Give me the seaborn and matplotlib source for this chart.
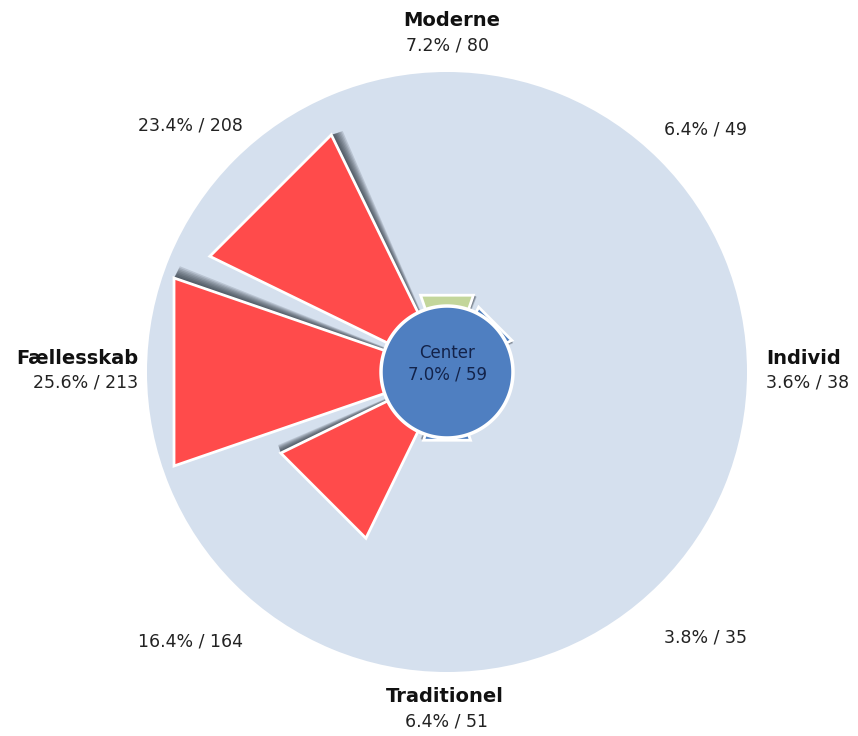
import numpy as np
import matplotlib
matplotlib.use("Agg")
import matplotlib.pyplot as plt
import seaborn as sns

sns.set_theme(style="white")
plt.rcParams["font.family"] = ["DejaVu Sans"]

# segments counter-clockwise from the right (degrees)
directions = [0, 45, 90, 135, 180, 225, 270, 315]
segment_names = ["Individ", "", "Moderne", "", "Fællesskab", "", "Traditionel", ""]
shares = [3.6, 6.4, 7.2, 23.4, 25.6, 16.4, 6.4, 3.8]
counts = [38, 49, 80, 208, 213, 164, 51, 35]
levels = ["under", "under", "middel", "over", "over", "over", "under", "under"]
center_share = 7.0
center_count = 59

level_colors = {"over": "#ff4b4b", "middel": "#c3d69b", "under": "#4f7fc1"}

W, H = 858, 736
RMAX = 26.6          # share at the rim of the background disc
CENTER_R = 5.85      # radius of the center disc, same units
HALF = np.deg2rad(19)

# label layout in pixels (x, y from top)
name_xy = [(766, 358), None, (452, 21), None, (138, 358), None, (445, 696), None]
value_xy = [(766, 383), (705, 130), (448, 45), (190, 125),
            (138, 383), (190, 642), (447, 721), (705, 637)]
label_ha = ["left", "center", "center", "center", "right", "center", "center", "center"]


def px(x, y):
    return x / W, 1 - y / H


fig = plt.figure(figsize=(W / 100, H / 100), dpi=100)
fig.patch.set_facecolor("white")
ax = fig.add_axes([147 / W, 64 / H, 600 / W, 600 / H], projection="polar")
ax.set_ylim(0, RMAX)
ax.set_facecolor("#d5e0ee")
ax.grid(False)
ax.set_xticks([])
ax.set_yticks([])
ax.spines["polar"].set_visible(False)

for d, s, lvl in zip(directions, shares, levels):
    th = np.deg2rad(d)
    edge = th - HALF
    # soft shadow along the clockwise edge only
    for delta in np.linspace(2.6, 0.4, 8):
        dt = np.deg2rad(delta)
        ax.fill([edge, edge, edge - dt], [0, s, s * 0.995],
                color="#27303a", alpha=0.16, lw=0, zorder=2)
    ax.fill([th, th - HALF, th + HALF], [0, s, s],
            facecolor=level_colors[lvl], edgecolor="white", lw=2, zorder=3)

circle_t = np.linspace(0, 2 * np.pi, 361)
ax.fill(circle_t, np.full_like(circle_t, CENTER_R), facecolor="#4f7fc1",
        edgecolor="white", lw=2.5, zorder=5)
ax.text(np.pi / 2, 0.7, "Center\n{:.1f}% / {}".format(center_share, center_count),
        ha="center", va="center", fontsize=12, color="#13234a",
        linespacing=1.25, zorder=6)

for i in range(len(directions)):
    if name_xy[i] is not None:
        fig.text(*px(*name_xy[i]), segment_names[i], ha=label_ha[i], va="center",
                 fontsize=14, fontweight="bold", color="#111111")
    fig.text(*px(*value_xy[i]), "{:.1f}% / {}".format(shares[i], counts[i]),
             ha=label_ha[i], va="center", fontsize=12.5, color="#222222")

fig.savefig("out.png", dpi=100)
